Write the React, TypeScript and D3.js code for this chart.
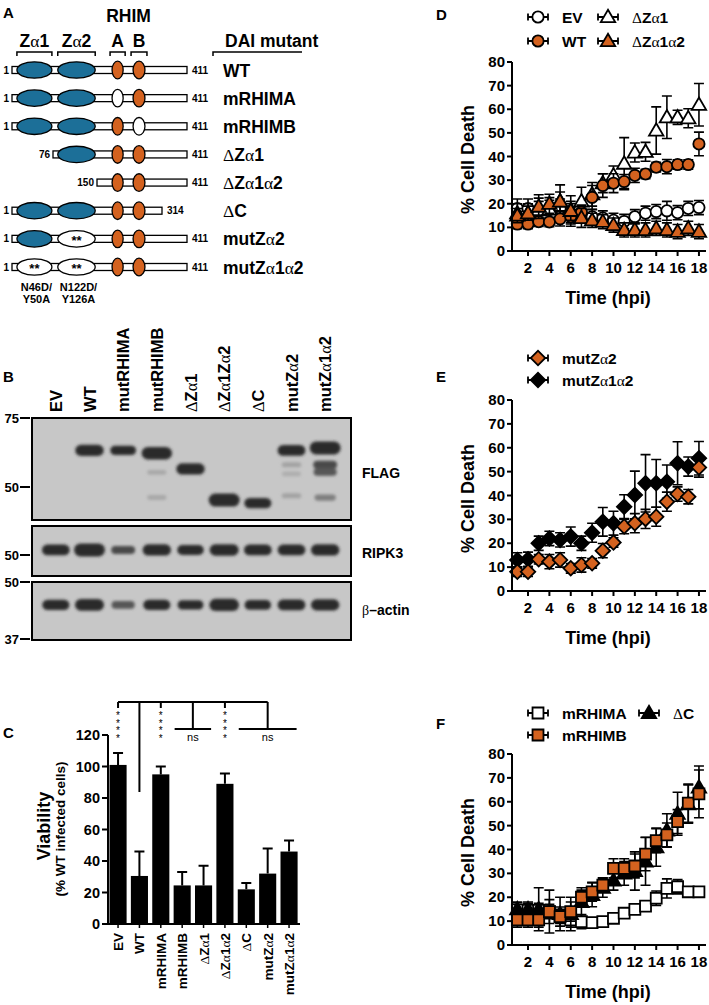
import React from "react"
import * as d3 from "d3"

const W = 709
const H = 1005
const ORANGE = "#d4621f"
const BLUE = "#1c6f98"
const FONT = "'Liberation Sans', Arial, sans-serif"
const GREEK = "'Liberation Serif', 'DejaVu Serif', serif"

// ---------- Panel A: DAI constructs ----------
const constructs = ["WT", "mRHIMA", "mRHIMB", "ΔZα1", "ΔZα1α2", "ΔC", "mutZα2", "mutZα1α2"]
const constructStart = [1, 1, 1, 76, 150, 1, 1, 1]
const constructEnd = [411, 411, 411, 411, 411, 314, 411, 411]
const za1State = ["wt", "wt", "wt", "none", "none", "wt", "wt", "mut"]
const za2State = ["wt", "wt", "wt", "wt", "none", "wt", "mut", "mut"]
const rhimAState = ["wt", "mut", "wt", "wt", "wt", "wt", "wt", "wt"]
const rhimBState = ["wt", "wt", "mut", "wt", "wt", "wt", "wt", "wt"]
const domainNames = ["Zα1", "Zα2", "A", "B"]
const domainStart = [10, 84, 188, 241]
const domainEnd = [74, 147, 216, 271]
const residueKnots = [1, 76, 150, 314, 411]
const mutationNotes = [["N46D/", "Y50A"], ["N122D/", "Y126A"]]

// ---------- Panel B: western blot ----------
const lanes = ["EV", "WT", "mutRHIMA", "mutRHIMB", "ΔZα1", "ΔZα1Zα2", "ΔC", "mutZα2", "mutZα1α2"]
const flagLane = ["WT", "mutRHIMA", "mutRHIMB", "ΔZα1", "ΔZα1Zα2", "ΔC", "mutZα2", "mutZα1α2", "mutZα1α2", "mutZα1α2", "mutZα1α2", "mutRHIMB", "mutRHIMB", "mutZα2", "mutZα2", "mutZα2"]
const flagKda = [62, 62, 61, 55.6, 46.3, 45.5, 62, 62.9, 57, 54.6, 47, 54.5, 47, 57, 54, 47.5]
const flagIntensity = [0.8, 0.6, 0.95, 0.8, 1, 0.7, 0.75, 1, 0.45, 0.4, 0.25, 0.1, 0.1, 0.12, 0.08, 0.12]
const ripkKda = [51.5, 51.5, 51.5, 51.5, 51.5, 51.5, 51.5, 51.5, 51.5]
const ripkIntensity = [0.75, 1, 0.45, 0.8, 0.65, 0.85, 0.75, 0.75, 0.8]
const actinKda = [44.3, 44.3, 44.3, 44.3, 44.3, 44.3, 44.3, 44.3, 44.3]
const actinIntensity = [0.7, 0.85, 0.4, 0.7, 0.6, 0.9, 0.65, 0.75, 0.8]
const flagMarkers = [75, 50]
const ripkMarkers = [50]
const actinMarkers = [50, 37]

// ---------- Panel C: viability ----------
const viabilityGroups = ["EV", "WT", "mRHIMA", "mRHIMB", "ΔZα1", "ΔZα1α2", "ΔC", "mutZα2", "mutZα1α2"]
const viabilityMean = [101, 30.5, 95, 24.5, 24.5, 89, 22, 32, 46]
const viabilitySem = [7.5, 15.5, 5, 8.5, 12.5, 6.5, 4, 16, 7]
const viabilityTicks = [0, 20, 40, 60, 80, 100, 120]
const sigGroups = [["EV"], ["mRHIMA"], ["mRHIMB", "ΔZα1"], ["ΔZα1α2"], ["ΔC", "mutZα2", "mutZα1α2"]]
const sigLabels = ["****", "****", "ns", "****", "ns"]

// ---------- Panels D-F: cell death time course ----------
const hours = [1, 2, 3, 4, 5, 6, 7, 8, 9, 10, 11, 12, 13, 14, 15, 16, 17, 18]
const deathTicks = [0, 10, 20, 30, 40, 50, 60, 70, 80]
const hourTicks = [2, 4, 6, 8, 10, 12, 14, 16, 18]

const evMean = [18, 18, 17, 17.5, 18, 16, 15, 14.5, 14, 13, 12.5, 14.5, 16, 16.7, 17, 16.2, 18, 18.4]
const evErr = [4, 4, 4, 4, 4, 4, 3, 3, 3, 3, 3, 3, 3, 3, 4, 3, 3, 3]
const wtMean = [11.4, 11.4, 12.4, 12.3, 13.6, 14.5, 16.4, 22.7, 27.7, 28.7, 29.4, 32, 32.6, 35.5, 35.7, 36.6, 36.6, 45.3]
const wtErr = [2, 2, 2, 2, 3, 4, 3, 5, 5, 4, 3, 3, 2, 2, 3, 2, 2, 5]
const dz1Mean = [16, 16, 17.4, 17.6, 21, 17.4, 21, 24, 28.7, 32, 37, 41.7, 42, 51, 56.6, 56.6, 56.2, 61.9]
const dz1Err = [4, 4, 5, 5, 7, 6, 6, 5, 4, 4, 11, 4, 4, 10, 9, 3, 4, 9]
const dz12Mean = [15, 16, 18.8, 20, 21, 17, 14, 13, 12.4, 11, 8.9, 8.9, 8.9, 9.6, 8.9, 8.2, 9.6, 8.2]
const dz12Err = [3, 3, 5, 4, 4, 4, 4, 3, 3, 3, 3, 3, 3, 3, 3, 3, 3, 3]

const mz2Mean = [8.1, 8.1, 13.3, 12.3, 13, 9.5, 10.9, 11.6, 16.9, 20.3, 27, 28.4, 30.2, 31.1, 37.4, 40.6, 39.5, 51.7]
const mz2Err = [2, 2, 2, 3, 3, 2, 3, 2, 3, 2, 3, 4, 4, 4, 4, 3, 3, 4]
const mz12Mean = [13, 13.3, 20, 22, 21.4, 22.8, 20, 24.4, 29, 28.4, 35.3, 40.2, 45.1, 45.1, 45.8, 53.5, 52.1, 55.6]
const mz12Err = [3, 3, 3, 3, 3, 4, 3, 4, 6, 5, 5, 10, 12, 10, 7, 9, 4, 7]

const rhimaMean = [14.7, 14.5, 14.5, 14, 12, 10.5, 9.8, 9.4, 9.8, 11.2, 13.3, 14.9, 16.3, 19.6, 23.7, 24.4, 22.3, 22.3]
const rhimaErr = [3, 3, 3, 3, 3, 3, 3, 2, 2, 2, 2, 2, 2, 3, 4, 3, 2, 2]
const rhimbMean = [10.5, 10.5, 10.5, 14, 11.9, 14, 20, 22.3, 25.1, 32.1, 32.1, 33.1, 38.1, 43.7, 46.1, 51.7, 59.4, 63.3]
const rhimbErr = [3, 3, 3, 5, 4, 4, 3, 4, 3, 4, 4, 5, 7, 5, 5, 5, 8, 10]
const dcMean = [15, 15, 15, 14, 13, 13, 18, 21, 24, 27, 30, 31, 35, 41, 48, 55, 59, 66]
const dcErr = [3, 3, 9, 9, 7, 7, 6, 5, 4, 4, 5, 8, 10, 8, 7, 9, 8, 9]

function Rich({ text, ...rest }: any) {
  const parts = text.split(/([Δαβ])/).filter((p: string) => p.length)
  return (
    <text {...rest}>
      {parts.map((p: string, i: number) =>
        /[Δαβ]/.test(p) ? (
          <tspan key={i} fontFamily={GREEK} fontWeight="normal">{p}</tspan>
        ) : (
          <tspan key={i}>{p}</tspan>
        )
      )}
    </text>
  )
}

function PanelA() {
  const x = d3.scaleLinear().domain(residueKnots).range([12, 53, 97, 162, 187])
  const y = d3.scalePoint().domain(constructs).range([70, 267])
  const states = [za1State, za2State, rhimAState, rhimBState]
  return (
    <g fontWeight="bold">
      <text x={3} y={18} fontSize={15}>A</text>
      <text x={(x(domainStart[2]) + x(domainEnd[3])) / 2} y={22} fontSize={17.5} textAnchor="middle">RHIM</text>
      {domainNames.map((d, i) => {
        const x0 = x(domainStart[i]) - (i < 2 ? 0 : 2)
        const x1 = x(domainEnd[i]) + (i < 2 ? 0 : 2)
        return (
          <g key={d}>
            <Rich text={d} x={(x0 + x1) / 2} y={47} fontSize={17.5} textAnchor="middle" />
            <path d={`M${x0},56V52H${x1}V56`} fill="none" stroke="#000" strokeWidth={1.5} />
          </g>
        )
      })}
      <text x={225} y={47} fontSize={17.5}>DAI mutant</text>
      <path d="M213,56V52H302" fill="none" stroke="#000" strokeWidth={1.5} />
      {constructs.map((c, r) => {
        const cy = y(c)!
        const s = constructStart[r]
        const e = constructEnd[r]
        return (
          <g key={c}>
            <rect x={x(s)} y={cy - 3.5} width={x(e) - x(s)} height={7} fill="#fff" stroke="#000" strokeWidth={1.3} />
            {domainNames.map((d, i) => {
              const st = states[i][r]
              if (st === "none") return null
              const cx = (x(domainStart[i]) + x(domainEnd[i])) / 2
              const rx = (x(domainEnd[i]) - x(domainStart[i])) / 2
              const fill = st === "mut" ? "#fff" : i < 2 ? BLUE : ORANGE
              return (
                <g key={d}>
                  <ellipse cx={cx} cy={cy} rx={rx} ry={i < 2 ? 8.2 : 8.8} fill={fill} stroke="#000" strokeWidth={1.3} />
                  {st === "mut" && i < 2 && (
                    <text x={cx} y={cy + 6} fontSize={13} textAnchor="middle">**</text>
                  )}
                </g>
              )
            })}
            <text x={x(s) - 3} y={cy + 3.5} fontSize={10} textAnchor="end">{s}</text>
            <text x={x(e) + 5} y={cy + 3.5} fontSize={10}>{e}</text>
            <Rich text={c} x={223} y={cy + 6.5} fontSize={17.5} />
          </g>
        )
      })}
      {mutationNotes.map((lines, i) => {
        const cx = (x(domainStart[i]) + x(domainEnd[i])) / 2
        return lines.map((t, j) => (
          <text key={i + "-" + j} x={cx + 2} y={291 + j * 12} fontSize={11} textAnchor="middle">{t}</text>
        ))
      })}
    </g>
  )
}

function Blot({ y0, y1, yScale, laneIdx, kda, intensity, markers, label, labelY, x }: any) {
  const thick = d3.scaleLinear().domain([0, 1]).range([4, 13])
  const wide = d3.scaleLinear().domain([0, 1]).range([18, 31])
  const shade = (v: number) => d3.interpolateRgb("#c4c4c4", "#2b2b2b")(Math.min(1, v * 1.8))
  return (
    <g>
      <rect x={32} y={y0} width={319} height={y1 - y0} fill="#c7c7c7" stroke="#000" strokeWidth={2} />
      <g filter="url(#blur)">
        {kda.map((k: number, i: number) => {
          const cx = x(laneIdx[i])! + x.bandwidth() / 2
          const h = thick(intensity[i])
          const w = wide(intensity[i])
          return <rect key={i} x={cx - w / 2} y={yScale(k) - h / 2} width={w} height={h} rx={h / 2} fill={shade(intensity[i])} />
        })}
      </g>
      {markers.map((m: number) => (
        <g key={m}>
          <text x={19} y={yScale(m) + 5} fontSize={13} fontWeight="bold" textAnchor="end">{m}</text>
          <line x1={20} x2={30} y1={yScale(m)} y2={yScale(m)} stroke="#000" strokeWidth={2} />
        </g>
      ))}
      <Rich text={label} x={362} y={labelY} fontSize={14} fontWeight="bold" />
    </g>
  )
}

function PanelB() {
  const x = d3.scaleBand().domain(lanes).range([39, 342])
  const flagY = d3.scaleLog().domain([75, 50]).range([418, 487])
  const ripkY = d3.scaleLog().domain([50, 75]).range([555, 486])
  const actinY = d3.scaleLog().domain([50, 37]).range([582, 639])
  return (
    <g>
      <text x={3} y={382} fontSize={15} fontWeight="bold">B</text>
      {lanes.map((l) => (
        <Rich key={l} text={l} fontSize={16.5} fontWeight="bold"
          transform={`translate(${x(l)! + x.bandwidth() / 2 + 6},412) rotate(-90)`} />
      ))}
      <Blot y0={418} y1={520} yScale={flagY} x={x} laneIdx={flagLane} kda={flagKda} intensity={flagIntensity}
        markers={flagMarkers} label="FLAG" labelY={478} />
      <Blot y0={526} y1={576} yScale={ripkY} x={x} laneIdx={lanes} kda={ripkKda} intensity={ripkIntensity}
        markers={ripkMarkers} label="RIPK3" labelY={558} />
      <Blot y0={582} y1={640} yScale={actinY} x={x} laneIdx={lanes} kda={actinKda} intensity={actinIntensity}
        markers={actinMarkers} label="β–actin" labelY={615} />
    </g>
  )
}

function PanelC() {
  const x = d3.scaleBand().domain(viabilityGroups).range([109.5, 297.6]).paddingInner(0.2)
  const y = d3.scaleLinear().domain([0, 120]).range([924, 735])
  const cx = (g: string) => x(g)! + x.bandwidth() / 2
  const half = x.bandwidth() / 2 - 1
  const topY = 702
  const sigX = sigGroups.map((g) => (g.length === 1 ? cx(g[0]) : (cx(g[0]) + cx(g[g.length - 1])) / 2))
  return (
    <g fontWeight="bold">
      <text x={3} y={738} fontSize={15}>C</text>
      {/* significance brackets */}
      <g stroke="#000" strokeWidth={2} fill="none">
        <line x1={sigX[0]} x2={sigX[sigX.length - 1]} y1={topY} y2={topY} />
        <line x1={cx("WT")} x2={cx("WT")} y1={topY} y2={792} />
        {sigGroups.map((g, i) =>
          g.length === 1 ? (
            <line key={i} x1={sigX[i]} x2={sigX[i]} y1={topY} y2={708} />
          ) : (
            <path key={i} d={`M${sigX[i]},${topY}V729M${cx(g[0]) - half},729H${cx(g[g.length - 1]) + half}`} />
          )
        )}
      </g>
      {sigLabels.map((s, i) =>
        s === "ns" ? (
          <text key={i} x={sigX[i]} y={741} fontSize={11} fontWeight="normal" textAnchor="middle">ns</text>
        ) : (
          <text key={i} x={sigX[i]} y={719} fontSize={10} fontWeight="normal" textAnchor="middle" fill="#000">
            {s.split("").map((c, j) => (
              <tspan key={j} x={sigX[i]} dy={j === 0 ? 0 : 7.5}>{c}</tspan>
            ))}
          </text>
        )
      )}
      {/* bars */}
      {viabilityGroups.map((g, i) => (
        <g key={g}>
          <path d={`M${cx(g)},${y(viabilityMean[i])}V${y(viabilityMean[i] + viabilitySem[i])}M${cx(g) - 5},${y(viabilityMean[i] + viabilitySem[i])}H${cx(g) + 5}`}
            stroke="#000" strokeWidth={2} fill="none" />
          <rect x={x(g)} y={y(viabilityMean[i])} width={x.bandwidth()} height={y(0) - y(viabilityMean[i])} fill="#000" />
          <line x1={cx(g)} x2={cx(g)} y1={924} y2={928} stroke="#000" strokeWidth={1.5} />
          <Rich text={g} fontSize={13.5} textAnchor="end" transform={`translate(${cx(g) + 5},933) rotate(-90)`} />
        </g>
      ))}
      {/* axes */}
      <path d="M108,735V924H300" fill="none" stroke="#000" strokeWidth={2} />
      {viabilityTicks.map((t) => (
        <g key={t}>
          <line x1={102} x2={108} y1={y(t)} y2={y(t)} stroke="#000" strokeWidth={2} />
          <text x={100} y={y(t) + 5} fontSize={14.5} textAnchor="end">{t}</text>
        </g>
      ))}
      <text transform="translate(50,826) rotate(-90)" fontSize={18} textAnchor="middle">Viability</text>
      <text transform="translate(65,829) rotate(-90)" fontSize={13.5} textAnchor="middle">(% WT infected cells)</text>
    </g>
  )
}

function markerPath(shape: string) {
  if (shape === "circle") return d3.symbol(d3.symbolCircle, 100)()!
  if (shape === "triangle") return d3.symbol(d3.symbolTriangle, 90)()!
  if (shape === "square") return d3.symbol(d3.symbolSquare, 120)()!
  return d3.symbol(d3.symbolSquare, 105)()!
}

function Marker({ shape, fill, x, y }: any) {
  const rot = shape === "diamond" ? " rotate(45)" : ""
  const dy = shape === "triangle" ? 1 : 0
  return (
    <path d={markerPath(shape)} transform={`translate(${x},${y + dy})${rot}`} fill={fill} stroke="#000" strokeWidth={1.8} />
  )
}

function TimeCourse({ letter, letterY, y0, y80, series, legend }: any) {
  const x = d3.scaleLinear().domain([0.5, 18.66]).range([512, 706])
  const y = d3.scaleLinear().domain([0, 80]).range([y0, y80])
  return (
    <g fontWeight="bold">
      <text x={436} y={letterY} fontSize={15}>{letter}</text>
      {legend.map((l: any) => (
        <g key={l.name}>
          <path d={`M${l.x - 10},${l.y - 3.5}v7M${l.x - 10},${l.y}H${l.x + 10}M${l.x + 10},${l.y - 3.5}v7`} stroke="#000" strokeWidth={1.8} fill="none" />
          <Marker shape={l.shape} fill={l.fill} x={l.x} y={l.y} />
          <Rich text={l.name} x={l.x + 24} y={l.y + 5.5} fontSize={15.5} />
        </g>
      ))}
      {series.map((s: any) => (
        <g key={s.name}>
          {hours.map((h, i) => {
            const hi = y(s.mean[i] + s.err[i])
            const lo = y(Math.max(0, s.mean[i] - s.err[i]))
            return (
              <path key={h} d={`M${x(h)},${hi}V${lo}M${x(h) - 5},${hi}h10M${x(h) - 5},${lo}h10`} stroke="#000" strokeWidth={1.6} fill="none" />
            )
          })}
          {hours.map((h, i) => (
            <Marker key={h} shape={s.shape} fill={s.fill} x={x(h)} y={y(s.mean[i])} />
          ))}
        </g>
      ))}
      <path d={`M512,${y80}V${y0}H706`} fill="none" stroke="#000" strokeWidth={2} />
      {deathTicks.map((t) => (
        <g key={t}>
          <line x1={507} x2={512} y1={y(t)} y2={y(t)} stroke="#000" strokeWidth={2} />
          <text x={505} y={y(t) + 5} fontSize={15} textAnchor="end">{t}</text>
        </g>
      ))}
      {hourTicks.map((t) => (
        <g key={t}>
          <line x1={x(t)} x2={x(t)} y1={y0} y2={y0 + 5} stroke="#000" strokeWidth={2} />
          <text x={x(t)} y={y0 + 22} fontSize={15} textAnchor="middle">{t}</text>
        </g>
      ))}
      <text x={608} y={y0 + 53} fontSize={18} textAnchor="middle">Time (hpi)</text>
      <text transform={`translate(474,${(y0 + y80) / 2 + 3}) rotate(-90)`} fontSize={18} textAnchor="middle">% Cell Death</text>
    </g>
  )
}

export default function App() {
  const dSeries = [
    { name: "EV", mean: evMean, err: evErr, shape: "circle", fill: "#fff" },
    { name: "ΔZα1", mean: dz1Mean, err: dz1Err, shape: "triangle", fill: "#fff" },
    { name: "WT", mean: wtMean, err: wtErr, shape: "circle", fill: ORANGE },
    { name: "ΔZα1α2", mean: dz12Mean, err: dz12Err, shape: "triangle", fill: ORANGE },
  ]
  const dLegend = [
    { name: "EV", shape: "circle", fill: "#fff", x: 538, y: 17 },
    { name: "ΔZα1", shape: "triangle", fill: "#fff", x: 608, y: 17 },
    { name: "WT", shape: "circle", fill: ORANGE, x: 538, y: 41 },
    { name: "ΔZα1α2", shape: "triangle", fill: ORANGE, x: 608, y: 41 },
  ]
  const eSeries = [
    { name: "mutZα1α2", mean: mz12Mean, err: mz12Err, shape: "diamond", fill: "#000" },
    { name: "mutZα2", mean: mz2Mean, err: mz2Err, shape: "diamond", fill: ORANGE },
  ]
  const eLegend = [
    { name: "mutZα2", shape: "diamond", fill: ORANGE, x: 538, y: 358 },
    { name: "mutZα1α2", shape: "diamond", fill: "#000", x: 538, y: 380 },
  ]
  const fSeries = [
    { name: "mRHIMA", mean: rhimaMean, err: rhimaErr, shape: "square", fill: "#fff" },
    { name: "ΔC", mean: dcMean, err: dcErr, shape: "triangle", fill: "#000" },
    { name: "mRHIMB", mean: rhimbMean, err: rhimbErr, shape: "square", fill: ORANGE },
  ]
  const fLegend = [
    { name: "mRHIMA", shape: "square", fill: "#fff", x: 538, y: 713 },
    { name: "ΔC", shape: "triangle", fill: "#000", x: 649, y: 713 },
    { name: "mRHIMB", shape: "square", fill: ORANGE, x: 538, y: 735 },
  ]
  return (
    <svg width={W} height={H} viewBox={`0 0 ${W} ${H}`} fontFamily={FONT}
      style={{ position: "absolute", left: 0, top: 0, background: "#fff" }}>
      <defs>
        <filter id="blur" x="-20%" y="-60%" width="140%" height="220%">
          <feGaussianBlur stdDeviation="1.5" />
        </filter>
      </defs>
      <PanelA />
      <PanelB />
      <PanelC />
      <TimeCourse letter="D" letterY={20} y0={251} y80={62} series={dSeries} legend={dLegend} />
      <TimeCourse letter="E" letterY={382} y0={591} y80={400} series={eSeries} legend={eLegend} />
      <TimeCourse letter="F" letterY={729} y0={945} y80={754} series={fSeries} legend={fLegend} />
    </svg>
  )
}
